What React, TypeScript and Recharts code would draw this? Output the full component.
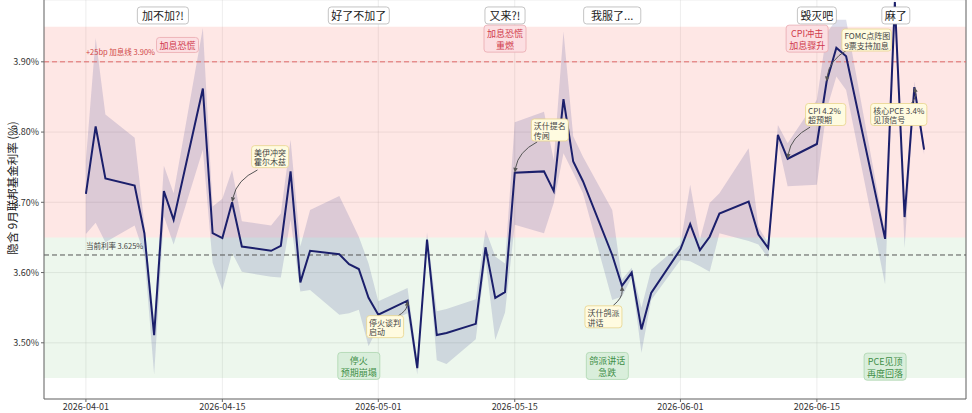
import React from 'react';
import {
  ComposedChart, Line, Area, XAxis, YAxis, CartesianGrid,
  ReferenceArea, ReferenceLine, ReferenceDot,
} from 'recharts';

const FONT = '"Noto Sans CJK SC", "Noto Sans", sans-serif';

// trading days
const dates = [
  '2026-04-01', '2026-04-02', '2026-04-03', '2026-04-06', '2026-04-07', '2026-04-08', '2026-04-09', '2026-04-10',
  '2026-04-13', '2026-04-14', '2026-04-15', '2026-04-16', '2026-04-17', '2026-04-20', '2026-04-21', '2026-04-22',
  '2026-04-23', '2026-04-24', '2026-04-27', '2026-04-28', '2026-04-29', '2026-04-30', '2026-05-01', '2026-05-04',
  '2026-05-05', '2026-05-06', '2026-05-07', '2026-05-08', '2026-05-11', '2026-05-12', '2026-05-13', '2026-05-14',
  '2026-05-15', '2026-05-18', '2026-05-19', '2026-05-20', '2026-05-21', '2026-05-22', '2026-05-25', '2026-05-26',
  '2026-05-27', '2026-05-28', '2026-05-29', '2026-06-01', '2026-06-02', '2026-06-03', '2026-06-04', '2026-06-05',
  '2026-06-08', '2026-06-09', '2026-06-10', '2026-06-11', '2026-06-12', '2026-06-15', '2026-06-16', '2026-06-17',
  '2026-06-18', '2026-06-22', '2026-06-23', '2026-06-24', '2026-06-25', '2026-06-26',
];

// implied Sept fed funds rate (%)
const rate = [
  3.712, 3.808, 3.734, 3.724, 3.656, 3.511, 3.716, 3.675, 3.862, 3.656,
  3.649, 3.700, 3.637, 3.631, 3.638, 3.744, 3.586, 3.631, 3.626, 3.612,
  3.605, 3.564, 3.540, 3.560, 3.464, 3.647, 3.511, 3.514, 3.527, 3.636,
  3.564, 3.572, 3.742, 3.744, 3.716, 3.847, 3.758, 3.730, 3.625, 3.581,
  3.600, 3.519, 3.571, 3.633, 3.669, 3.632, 3.651, 3.684, 3.701, 3.654,
  3.635, 3.796, 3.762, 3.783, 3.872, 3.920, 3.908, 3.648, 3.985, 3.679,
  3.864, 3.775,
];

// intraday range band
const lower = [
  3.655, 3.671, 3.643, 3.667, 3.625, 3.455, 3.680, 3.640, 3.775, 3.614,
  3.575, 3.628, 3.601, 3.594, 3.593, 3.675, 3.573, 3.575, 3.540, 3.542,
  3.547, 3.495, 3.523, 3.542, 3.455, 3.640, 3.475, 3.470, 3.505, 3.618,
  3.504, 3.543, 3.668, 3.656, 3.699, 3.770, 3.742, 3.713, 3.561, 3.566,
  3.593, 3.486, 3.561, 3.618, 3.616, 3.609, 3.601, 3.656, 3.645, 3.640,
  3.621, 3.785, 3.723, 3.725, 3.832, 3.879, 3.860, 3.583, 3.960, 3.635,
  3.851, 3.768,
];
const upper = [
  3.760, 3.934, 3.825, 3.792, 3.668, 3.530, 3.752, 3.713, 3.948, 3.694,
  3.705, 3.746, 3.673, 3.667, 3.684, 3.789, 3.637, 3.689, 3.709, 3.680,
  3.651, 3.613, 3.559, 3.578, 3.475, 3.657, 3.545, 3.548, 3.562, 3.661,
  3.623, 3.613, 3.814, 3.829, 3.760, 3.943, 3.794, 3.765, 3.689, 3.590,
  3.607, 3.550, 3.604, 3.640, 3.725, 3.647, 3.699, 3.713, 3.777, 3.665,
  3.642, 3.810, 3.784, 3.846, 3.941, 3.960, 3.960, 3.656, 3.995, 3.694,
  3.872, 3.782,
];

const xTicks = ['2026-04-01', '2026-04-15', '2026-05-01', '2026-05-15', '2026-06-01', '2026-06-15'];
const yTicks = [3.5, 3.6, 3.7, 3.8, 3.9];

const HIKE_LINE = 3.9;
const CURRENT_RATE = 3.625;

const moodLabels = [
  { text: '加不加?!', day: 7.9 },
  { text: '好了不加了', day: 28.0 },
  { text: '又来?!', day: 43.0 },
  { text: '我服了...', day: 54.0 },
  { text: '毁灭吧', day: 75.0 },
  { text: '麻了', day: 83.1 },
];

const panicNotes = [
  { lines: ['加息恐慌'], day: 9.4, y: 3.924 },
  { lines: ['加息恐慌', '重燃'], day: 43.0, y: 3.933 },
  { lines: ['CPI冲击', '加息骤升'], day: 74.0, y: 3.933 },
];

const reliefNotes = [
  { lines: ['停火', '预期崩塌'], day: 28.0, y: 3.467 },
  { lines: ['鸽派讲话', '急跌'], day: 53.5, y: 3.467 },
  { lines: ['PCE见顶', '再度回落'], day: 82.0, y: 3.466 },
];

const eventNotes = [
  { lines: ['美伊冲突', '霍尔木兹'], day: 18.9, y: 3.765, fromDay: 17.6, fromY: 3.746, target: '2026-04-16' },
  { lines: ['沃什提名', '传闻'], day: 47.6, y: 3.803, fromDay: 46.3, fromY: 3.786, target: '2026-05-15' },
  { lines: ['停火谈判', '启动'], day: 30.7, y: 3.523, fromDay: 32.0, fromY: 3.538, target: '2026-05-04' },
  { lines: ['沃什鸽派', '讲话'], day: 53.1, y: 3.537, fromDay: 54.1, fromY: 3.553, target: '2026-05-26' },
  { lines: ['CPI 4.2%', '超预期'], day: 75.9, y: 3.825, fromDay: 74.3, fromY: 3.807, target: '2026-06-12' },
  { lines: ['FOMC点阵图', '9票支持加息'], day: 80.1, y: 3.931, fromDay: 78.1, fromY: 3.917, target: '2026-06-16' },
  { lines: ['核心PCE 3.4%', '见顶信号'], day: 83.4, y: 3.825, fromDay: 84.6, fromY: 3.839, target: '2026-06-25' },
];

const DAY0 = Date.parse('2026-04-01');
const toDay = (d: string) => (Date.parse(d) - DAY0) / 86400000;
const fmtDay = (n: number) => new Date(DAY0 + Math.round(n) * 86400000).toISOString().slice(0, 10);

const X_MIN = -4.3;
const X_MAX = 90.3;

const data = dates.map((d, i) => ({ day: toDay(d), rate: rate[i], band: [lower[i], upper[i]] }));
const rateOn = (d: string) => rate[dates.indexOf(d)];

const textW = (s: string, fs: number) =>
  Array.from(s).reduce((w, ch) => w + (ch.charCodeAt(0) < 256 ? fs * 0.55 : fs), 0);

type BoxStyle = {
  fs: number; lh: number; padX: number; padY: number;
  fill: string; stroke: string; color: string; align?: 'start' | 'middle';
};

// one <text> per box, lines as tspans
function NoteBox({ cx, cy, lines, s }: { cx: number; cy: number; lines: string[]; s: BoxStyle }) {
  const w = Math.max(...lines.map((l) => textW(l, s.fs))) + s.padX * 2;
  const h = lines.length * s.lh + s.padY * 2;
  const left = cx - w / 2;
  const top = cy - h / 2;
  const tx = s.align === 'start' ? left + s.padX : cx;
  return (
    <g>
      <rect x={left} y={top} width={w} height={h} rx={3} fill={s.fill} stroke={s.stroke} strokeWidth={0.8} />
      <text x={tx} y={top + s.padY + s.lh * 0.5} textAnchor={s.align || 'middle'}
        dominantBaseline="central" fontSize={s.fs} fill={s.color} fontFamily={FONT}>
        {lines.map((l, i) => (
          <tspan key={i} x={tx} dy={i === 0 ? 0 : s.lh}>{l}</tspan>
        ))}
      </text>
    </g>
  );
}

const moodStyle: BoxStyle = { fs: 11, lh: 13, padX: 3, padY: 2, fill: '#ffffff', stroke: '#b5b5b5', color: '#222' };
const panicStyle: BoxStyle = { fs: 9, lh: 12, padX: 3, padY: 1.5, fill: '#fcdfe2', stroke: '#eaa9b0', color: '#d03a4c' };
const reliefStyle: BoxStyle = { fs: 9, lh: 12, padX: 3, padY: 1.5, fill: '#d9eedb', stroke: '#acd6ae', color: '#3f8f47' };
const eventStyle: BoxStyle = { fs: 8, lh: 9.5, padX: 2.5, padY: 1.5, fill: '#fffbe0', stroke: '#e8d48c', color: '#444', align: 'start' };

function Arrow(p: any) {
  const { x1, y1, x2, y2 } = p;
  const dx = x2 - x1;
  const dy = y2 - y1;
  const rad = 0.25;
  const qx = (x1 + x2) / 2 - rad * dy;
  const qy = (y1 + y2) / 2 + rad * dx;
  const tx = x2 - qx;
  const ty = y2 - qy;
  const len = Math.hypot(tx, ty) || 1;
  const ux = tx / len;
  const uy = ty / len;
  const hl = 5;
  const hw = 2.2;
  const bx = x2 - ux * hl;
  const by = y2 - uy * hl;
  return (
    <g>
      <path d={`M${x1},${y1} Q${qx},${qy} ${bx},${by}`} fill="none" stroke="#555" strokeWidth={1} />
      <polygon points={`${x2},${y2} ${bx - uy * hw},${by + ux * hw} ${bx + uy * hw},${by - ux * hw}`} fill="#555" />
    </g>
  );
}

export default function App() {
  return (
    <div style={{ position: 'relative', width: 972, height: 413, fontFamily: FONT, background: '#fff' }}>
      <style>{'body{margin:0}'}</style>
      <ComposedChart width={972} height={413} data={data} margin={{ top: 0, right: 6, bottom: 0, left: 0 }}>
        <ReferenceArea y1={3.45} y2={3.65} fill="#4caf50" fillOpacity={0.1} stroke="none" ifOverflow="hidden" />
        <ReferenceArea y1={3.65} y2={3.95} fill="#f44336" fillOpacity={0.13} stroke="none" ifOverflow="hidden" />
        <CartesianGrid stroke="#bdbdbd" strokeOpacity={0.35} strokeWidth={0.8} />
        <XAxis
          dataKey="day" type="number" domain={[X_MIN, X_MAX]} allowDataOverflow
          ticks={xTicks.map(toDay)} tickFormatter={fmtDay} height={14} tickSize={3}
          tick={{ fontSize: 9, fill: '#333', fontFamily: FONT }} stroke="#666"
        />
        <YAxis
          type="number" domain={[3.42, 3.988]} allowDataOverflow ticks={yTicks} width={44} tickSize={3}
          tickFormatter={(v: number) => `${v.toFixed(2)}%`}
          tick={{ fontSize: 9, fill: '#333', fontFamily: FONT }} stroke="#666"
        />
        <ReferenceLine x={X_MAX} stroke="#666" ifOverflow="extendDomain" />
        <Area dataKey="band" type="linear" fill="#2a2f8a" fillOpacity={0.16} stroke="none" isAnimationActive={false} />
        <ReferenceLine y={HIKE_LINE} stroke="#e06a6a" strokeDasharray="5 3" strokeWidth={1} />
        <ReferenceLine y={CURRENT_RATE} stroke="#555" strokeDasharray="5 3" strokeWidth={1} />
        <Line dataKey="rate" type="linear" stroke="#1b1f6b" strokeWidth={2} dot={false} isAnimationActive={false} />

        <ReferenceDot x={0} y={3.914} r={0} shape={(p: any) => (
          <text x={p.cx} y={p.cy} fontSize={7.5} fill="#d04848" fontFamily={FONT} dominantBaseline="central">
            +25bp 加息线 3.90%
          </text>
        )} />
        <ReferenceDot x={0} y={3.638} r={0} shape={(p: any) => (
          <text x={p.cx} y={p.cy} fontSize={7.5} fill="#444" fontFamily={FONT} dominantBaseline="central">
            当前利率 3.625%
          </text>
        )} />

        {eventNotes.map((n, i) => (
          <ReferenceLine key={`a${i}`} segment={[{ x: n.fromDay, y: n.fromY }, { x: toDay(n.target), y: rateOn(n.target) }]}
            shape={Arrow} />
        ))}
        {eventNotes.map((n, i) => (
          <ReferenceDot key={`e${i}`} x={n.day} y={n.y} r={0}
            shape={(p: any) => <NoteBox cx={p.cx} cy={p.cy} lines={n.lines} s={eventStyle} />} />
        ))}
        {moodLabels.map((n, i) => (
          <ReferenceDot key={`m${i}`} x={n.day} y={3.966} r={0}
            shape={(p: any) => <NoteBox cx={p.cx} cy={p.cy} lines={[n.text]} s={moodStyle} />} />
        ))}
        {panicNotes.map((n, i) => (
          <ReferenceDot key={`p${i}`} x={n.day} y={n.y} r={0}
            shape={(p: any) => <NoteBox cx={p.cx} cy={p.cy} lines={n.lines} s={panicStyle} />} />
        ))}
        {reliefNotes.map((n, i) => (
          <ReferenceDot key={`r${i}`} x={n.day} y={n.y} r={0}
            shape={(p: any) => <NoteBox cx={p.cx} cy={p.cy} lines={n.lines} s={reliefStyle} />} />
        ))}
      </ComposedChart>
      <div style={{
        position: 'absolute', left: 12, top: 188, transform: 'translate(-50%, -50%) rotate(-90deg)',
        whiteSpace: 'nowrap', fontSize: 11.5, color: '#222',
      }}>
        隐含 9月联邦基金利率 (%)
      </div>
    </div>
  );
}
